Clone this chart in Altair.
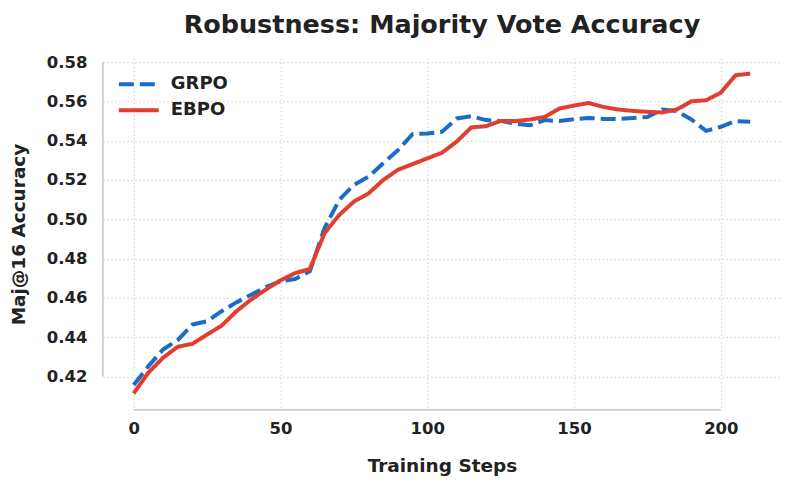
import altair as alt
import pandas as pd

steps = list(range(0, 215, 5))

grpo = [0.4156, 0.4252, 0.4337, 0.4385, 0.4464, 0.4481, 0.4532, 0.4577, 0.4616, 0.4655,
        0.4684, 0.4696, 0.4735, 0.4955, 0.5098, 0.5175, 0.5217, 0.5285, 0.5352, 0.5434,
        0.5437, 0.5445, 0.5513, 0.5525, 0.5505, 0.5501, 0.5487, 0.5479, 0.5505, 0.5500,
        0.5510, 0.5516, 0.5511, 0.5510, 0.5516, 0.5521, 0.5559, 0.5551, 0.5508, 0.5450,
        0.5471, 0.5500, 0.5497]

ebpo = [0.4114, 0.4219, 0.4295, 0.4351, 0.4366, 0.4413, 0.4459, 0.4532, 0.4591, 0.4642,
        0.4689, 0.4726, 0.4747, 0.4929, 0.5022, 0.5090, 0.5132, 0.5200, 0.5252, 0.5281,
        0.5310, 0.5339, 0.5395, 0.5468, 0.5474, 0.5501, 0.5500, 0.5508, 0.5521, 0.5564,
        0.5579, 0.5592, 0.5572, 0.5559, 0.5552, 0.5547, 0.5544, 0.5559, 0.5601, 0.5606,
        0.5645, 0.5733, 0.5742]

methods = ["GRPO", "EBPO"]
colors = ["#1a6cc4", "#e23e2f"]
x_ticks = [0, 50, 100, 150, 200]
y_ticks = [0.42, 0.44, 0.46, 0.48, 0.50, 0.52, 0.54, 0.56, 0.58]
x_domain = [-10.5, 220.5]
y_domain = [0.403, 0.582]

rows = []
for m, vals in zip(methods, [grpo, ebpo]):
    for s, v in zip(steps, vals):
        rows.append({"step": s, "acc": v, "method": m})
df = pd.DataFrame(rows)

FONT = "DejaVu Sans"
W, H = 679, 352

xs = alt.Scale(domain=x_domain, nice=False, zero=False)
ys = alt.Scale(domain=y_domain, nice=False, zero=False)

legend_kw = dict(title=None, orient="none", legendX=14, legendY=13,
                 symbolType="stroke", symbolSize=1600,
                 symbolStrokeWidth=4, labelFontSize=18,
                 labelFont=FONT, labelFontWeight="bold",
                 labelColor="#222222", labelOffset=10,
                 clipHeight=26, rowPadding=0, padding=0)

lines = alt.Chart(df).mark_line(strokeWidth=4, strokeCap="butt", strokeJoin="round").encode(
    x=alt.X("step:Q", scale=xs, title="Training Steps",
            axis=alt.Axis(values=x_ticks, format="d")),
    y=alt.Y("acc:Q", scale=ys, title="Maj@16 Accuracy",
            axis=alt.Axis(values=y_ticks, format=".2f")),
    color=alt.Color("method:N", sort=methods,
                    scale=alt.Scale(domain=methods, range=colors),
                    legend=alt.Legend(**legend_kw)),
    strokeDash=alt.StrokeDash("method:N", sort=methods,
                              scale=alt.Scale(domain=methods, range=[[15, 6], [1, 0]]),
                              legend=alt.Legend(**legend_kw)),
    order=alt.Order("step:Q"),
)

spine_df = pd.DataFrame({"ymin": [min(y_ticks)], "ymax": [max(y_ticks)],
                         "xmin": [min(x_ticks)], "xmax": [max(x_ticks)]})

left_spine = alt.Chart(spine_df).mark_rule(color="#cccccc", strokeWidth=1.8).encode(
    x=alt.value(0),
    y=alt.Y("ymin:Q", scale=ys),
    y2="ymax:Q",
)
bottom_spine = alt.Chart(spine_df).mark_rule(color="#cccccc", strokeWidth=1.8).encode(
    y=alt.value(H),
    x=alt.X("xmin:Q", scale=xs),
    x2="xmax:Q",
)

chart = alt.layer(left_spine, bottom_spine, lines).properties(
    width=W, height=H,
    title=alt.TitleParams("Robustness: Majority Vote Accuracy", font=FONT, fontSize=25.5,
                          fontWeight="bold", color="#222222", anchor="middle", offset=16),
    autosize=alt.AutoSizeParams(type="none"),
    padding={"left": 95, "top": 50, "right": 4, "bottom": 70},
).configure_view(stroke=None).configure_axis(
    domain=False, ticks=False,
    grid=True, gridColor="#cfcfcf", gridDash=[1.5, 2.5], gridWidth=1,
    labelFont=FONT, labelFontSize=16.5, labelFontWeight="bold", labelColor="#222222",
    titleFont=FONT, titleFontSize=18.5, titleFontWeight="bold", titleColor="#222222",
).configure_axisX(labelPadding=11, titlePadding=19).configure_axisY(
    labelPadding=16, titlePadding=18
)

chart.save("out.html", embed_options={"renderer": "svg", "actions": False})
